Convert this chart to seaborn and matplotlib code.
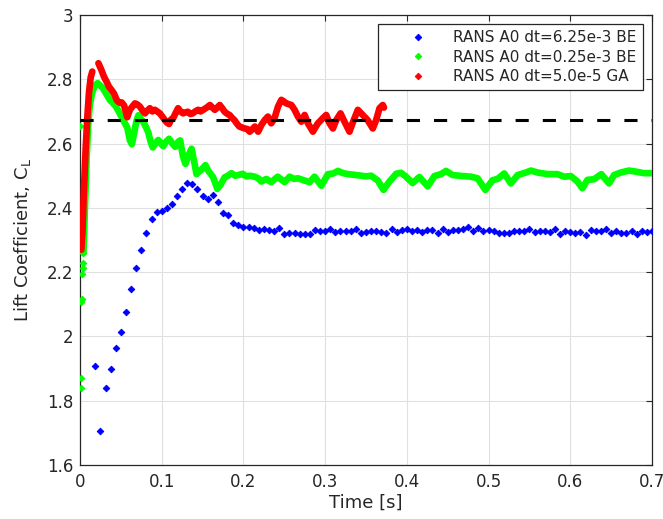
import numpy as np
import pandas as pd
import matplotlib
matplotlib.use("Agg")
import matplotlib.pyplot as plt
from matplotlib.lines import Line2D
import seaborn as sns

# ---------------------------------------------------------------------------
# Lift coefficient histories
# ---------------------------------------------------------------------------

# RANS A0, dt = 6.25e-3, backward Euler: one value per time step (from step 3)
blue_dt = 6.25e-3
blue_first_step = 3
blue_cl = [
    1.909, 1.707, 1.841, 1.899, 1.963, 2.013, 2.077, 2.149, 2.212, 2.268,
    2.322, 2.365, 2.386, 2.391, 2.401, 2.413, 2.438, 2.459, 2.476, 2.474,
    2.459, 2.438, 2.428, 2.440, 2.417, 2.385, 2.378, 2.353, 2.347, 2.342,
    2.339, 2.336, 2.330, 2.334, 2.330, 2.328, 2.336, 2.319, 2.321, 2.321,
    2.319, 2.319, 2.319, 2.331, 2.329, 2.329, 2.333, 2.324, 2.328, 2.328,
    2.328, 2.333, 2.321, 2.326, 2.328, 2.328, 2.326, 2.323, 2.333, 2.326,
    2.331, 2.333, 2.328, 2.331, 2.326, 2.331, 2.331, 2.323, 2.333, 2.326,
    2.331, 2.331, 2.333, 2.340, 2.329, 2.337, 2.329, 2.331, 2.328, 2.323,
    2.323, 2.323, 2.328, 2.329, 2.328, 2.335, 2.326, 2.329, 2.329, 2.326,
    2.334, 2.319, 2.329, 2.326, 2.323, 2.326, 2.316, 2.331, 2.328, 2.329,
    2.333, 2.323, 2.329, 2.323, 2.321, 2.329, 2.319, 2.329, 2.326, 2.328,
]

# RANS A0, dt = 0.25e-3, backward Euler
green_t = [
    0.0000, 0.0010, 0.0013, 0.0018, 0.0020, 0.0028, 0.0033, 0.0036,
    0.0042, 0.0060, 0.0080, 0.0100, 0.0120, 0.0150, 0.0180, 0.0215,
    0.0250, 0.0280, 0.0330, 0.0367, 0.0395, 0.0430, 0.0456, 0.0489,
    0.0517, 0.0545, 0.0578, 0.0610, 0.0635, 0.0660, 0.0690, 0.0715,
    0.0745, 0.0773, 0.0805, 0.0835, 0.0865, 0.0890, 0.0920, 0.0957,
    0.0990, 0.1018, 0.1050, 0.1090, 0.1130, 0.1165, 0.1200, 0.1225,
    0.1260, 0.1290, 0.1320, 0.1365, 0.1400, 0.1425, 0.1455, 0.1490,
    0.1535, 0.1570, 0.1630, 0.1680, 0.1720, 0.1770, 0.1810, 0.1853,
    0.1900, 0.1950, 0.1990, 0.2036, 0.2080, 0.2138, 0.2180, 0.2220,
    0.2280, 0.2340, 0.2420, 0.2470, 0.2504, 0.2565, 0.2620, 0.2667,
    0.2749, 0.2810, 0.2870, 0.2953, 0.3034, 0.3100, 0.3156, 0.3220,
    0.3278, 0.3350, 0.3441, 0.3500, 0.3563, 0.3645, 0.3714, 0.3787,
    0.3869, 0.3930, 0.3990, 0.4070, 0.4153, 0.4255, 0.4337, 0.4418,
    0.4480, 0.4560, 0.4683, 0.4785, 0.4866, 0.4960, 0.5049, 0.5110,
    0.5192, 0.5273, 0.5355, 0.5457, 0.5518, 0.5599, 0.5720, 0.5843,
    0.5925, 0.6006, 0.6087, 0.6148, 0.6210, 0.6290, 0.6380, 0.6474,
    0.6536, 0.6617, 0.6719, 0.6820, 0.6900, 0.7000,
]
green_cl = [
    2.655, 1.841, 1.870, 2.108, 2.115, 2.194, 2.212, 2.228,
    2.260, 2.400, 2.550, 2.660, 2.720, 2.760, 2.780, 2.788,
    2.780, 2.772, 2.751, 2.735, 2.728, 2.718, 2.708, 2.692,
    2.679, 2.665, 2.650, 2.610, 2.598, 2.630, 2.670, 2.688,
    2.676, 2.668, 2.652, 2.635, 2.605, 2.588, 2.600, 2.611,
    2.600, 2.592, 2.605, 2.615, 2.600, 2.590, 2.605, 2.610,
    2.560, 2.537, 2.560, 2.584, 2.540, 2.505, 2.512, 2.520,
    2.533, 2.515, 2.495, 2.459, 2.472, 2.495, 2.500, 2.508,
    2.500, 2.503, 2.506, 2.498, 2.500, 2.497, 2.492, 2.482,
    2.490, 2.480, 2.497, 2.487, 2.480, 2.497, 2.490, 2.492,
    2.485, 2.480, 2.497, 2.469, 2.505, 2.507, 2.515, 2.508,
    2.505, 2.503, 2.500, 2.498, 2.500, 2.485, 2.456, 2.482,
    2.506, 2.509, 2.497, 2.477, 2.496, 2.467, 2.499, 2.505,
    2.515, 2.502, 2.499, 2.497, 2.492, 2.456, 2.486, 2.490,
    2.507, 2.476, 2.502, 2.510, 2.516, 2.510, 2.505, 2.505,
    2.497, 2.499, 2.482, 2.461, 2.487, 2.489, 2.505, 2.476,
    2.502, 2.510, 2.516, 2.512, 2.508, 2.508,
]
# the first start-up samples are isolated points, the trace is continuous after them
green_trace_start = 8

# RANS A0, dt = 5.0e-5, generalized-alpha (two output segments)
red_t = [
    0.0016, 0.0030, 0.0050, 0.0070, 0.0090, 0.0110, 0.0130, 0.0150,
    0.0225, 0.0260, 0.0293, 0.0330, 0.0354, 0.0390, 0.0415, 0.0450,
    0.0477, 0.0510, 0.0540, 0.0578, 0.0610, 0.0640, 0.0672, 0.0700,
    0.0733, 0.0765, 0.0794, 0.0825, 0.0855, 0.0885, 0.0916, 0.0945,
    0.0977, 0.1010, 0.1038, 0.1065, 0.1090, 0.1115, 0.1140, 0.1170,
    0.1200, 0.1230, 0.1260, 0.1290, 0.1320, 0.1350, 0.1380, 0.1410,
    0.1445, 0.1475, 0.1507, 0.1550, 0.1590, 0.1620, 0.1650, 0.1680,
    0.1710, 0.1740, 0.1770, 0.1800, 0.1830, 0.1860, 0.1890, 0.1920,
    0.1950, 0.2016, 0.2050, 0.2077, 0.2110, 0.2140, 0.2180, 0.2220,
    0.2260, 0.2300, 0.2340, 0.2380, 0.2423, 0.2464, 0.2500, 0.2525,
    0.2560, 0.2586, 0.2626, 0.2667, 0.2708, 0.2749, 0.2789, 0.2820,
    0.2850, 0.2880, 0.2911, 0.2972, 0.3013, 0.3054, 0.3095, 0.3136,
    0.3188, 0.3237, 0.3298, 0.3330, 0.3359, 0.3400, 0.3460, 0.3520,
    0.3583, 0.3624, 0.3665, 0.3705, 0.3720,
]
red_cl = [
    2.270, 2.330, 2.470, 2.590, 2.685, 2.760, 2.805, 2.824,
    2.850, 2.830, 2.808, 2.790, 2.777, 2.765, 2.756, 2.735,
    2.728, 2.728, 2.718, 2.682, 2.705, 2.715, 2.725, 2.722,
    2.715, 2.703, 2.694, 2.703, 2.710, 2.700, 2.705, 2.700,
    2.694, 2.683, 2.673, 2.665, 2.661, 2.675, 2.679, 2.695,
    2.710, 2.700, 2.694, 2.697, 2.699, 2.692, 2.694, 2.700,
    2.705, 2.700, 2.705, 2.712, 2.720, 2.712, 2.705, 2.712,
    2.720, 2.710, 2.699, 2.693, 2.689, 2.680, 2.673, 2.662,
    2.653, 2.647, 2.645, 2.637, 2.645, 2.653, 2.637, 2.658,
    2.673, 2.684, 2.663, 2.679, 2.715, 2.736, 2.730, 2.725,
    2.722, 2.720, 2.705, 2.684, 2.668, 2.689, 2.663, 2.650,
    2.637, 2.650, 2.663, 2.679, 2.689, 2.663, 2.647, 2.673,
    2.694, 2.668, 2.637, 2.660, 2.679, 2.705, 2.689, 2.673,
    2.647, 2.673, 2.710, 2.720, 2.712,
]
red_segment = [0] * 8 + [1] * (len(red_t) - 8)

# reference lift coefficient (dashed line)
reference_cl = 2.673

series_labels = [
    "RANS A0 dt=6.25e-3 BE",
    "RANS A0 dt=0.25e-3 BE",
    "RANS A0 dt=5.0e-5 GA",
]
series_colors = [(0, 0, 1), (0, 1, 0), (1, 0, 0)]

x_ticks = [0, 0.1, 0.2, 0.3, 0.4, 0.5, 0.6, 0.7]
x_tick_labels = ["0", "0.1", "0.2", "0.3", "0.4", "0.5", "0.6", "0.7"]
y_ticks = [1.6, 1.8, 2.0, 2.2, 2.4, 2.6, 2.8, 3.0]
y_tick_labels = ["1.6", "1.8", "2", "2.2", "2.4", "2.6", "2.8", "3"]

# ---------------------------------------------------------------------------
# Figure
# ---------------------------------------------------------------------------
sns.set_style("white")
plt.rcParams["font.family"] = ["DejaVu Sans"]
dark = (0.15, 0.15, 0.15)

fig = plt.figure(figsize=(6.63, 5.19), dpi=100)
ax = fig.add_axes([0.1207, 0.104, 0.8627, 0.8671])

blue_t = blue_dt * np.arange(blue_first_step, blue_first_step + len(blue_cl))
blue_df = pd.DataFrame({"t": blue_t, "cl": blue_cl})
green_df = pd.DataFrame({"t": green_t, "cl": green_cl})
red_df = pd.DataFrame({"t": red_t, "cl": red_cl, "segment": red_segment})

marker_kw = dict(marker="D", s=11, linewidth=0.7, legend=False, ax=ax)
line_kw = dict(estimator=None, sort=False, legend=False, ax=ax,
               solid_capstyle="round", solid_joinstyle="round")

sns.scatterplot(data=blue_df, x="t", y="cl", color=series_colors[0],
                edgecolor=series_colors[0], zorder=3, **marker_kw)

sns.scatterplot(data=green_df.iloc[:green_trace_start + 1], x="t", y="cl",
                color=series_colors[1], edgecolor=series_colors[1],
                zorder=4, **marker_kw)
sns.lineplot(data=green_df.iloc[green_trace_start:], x="t", y="cl",
             color=series_colors[1], linewidth=4.8, zorder=4, **line_kw)

sns.lineplot(data=red_df, x="t", y="cl", units="segment",
             color=series_colors[2], linewidth=4.8, zorder=5, **line_kw)

ax.axhline(reference_cl, color="black", linewidth=2.2,
           dashes=(4.3, 4.6), zorder=6)

ax.set_xlim(x_ticks[0], x_ticks[-1])
ax.set_ylim(y_ticks[0], y_ticks[-1])
ax.set_xticks(x_ticks)
ax.set_xticklabels(x_tick_labels)
ax.set_yticks(y_ticks)
ax.set_yticklabels(y_tick_labels)

ax.set_axisbelow(True)
ax.grid(True, color=(0.88, 0.88, 0.88), linewidth=0.8)
for spine in ax.spines.values():
    spine.set_color(dark)
    spine.set_linewidth(0.9)
ax.tick_params(direction="in", length=4.5, width=0.8, color=dark,
               labelcolor=dark, labelsize=12, top=True, right=True)
ax.tick_params(axis="x", pad=6)
ax.tick_params(axis="y", pad=5)

ax.set_xlabel("Time [s]", fontsize=13, color=dark, labelpad=2)
ax.set_ylabel(r"Lift Coefficient, C$_\mathregular{L}$", fontsize=13,
              color=dark, labelpad=10)

handles = [
    Line2D([], [], linestyle="none", marker="D", markersize=3.3,
           color=c, markeredgewidth=0.7)
    for c in series_colors
]
leg = ax.legend(handles, series_labels, loc="upper right",
                bbox_to_anchor=(0.984, 0.98), borderaxespad=0,
                fontsize=11, frameon=True, fancybox=False,
                handlelength=4.4, handletextpad=0.1, borderpad=0.4,
                labelspacing=0.3)
leg.get_frame().set_edgecolor(dark)
leg.get_frame().set_linewidth(0.9)
leg.get_frame().set_facecolor("white")
leg.get_frame().set_alpha(1)
for text in leg.get_texts():
    text.set_color(dark)

fig.savefig("out.png", dpi=100)
